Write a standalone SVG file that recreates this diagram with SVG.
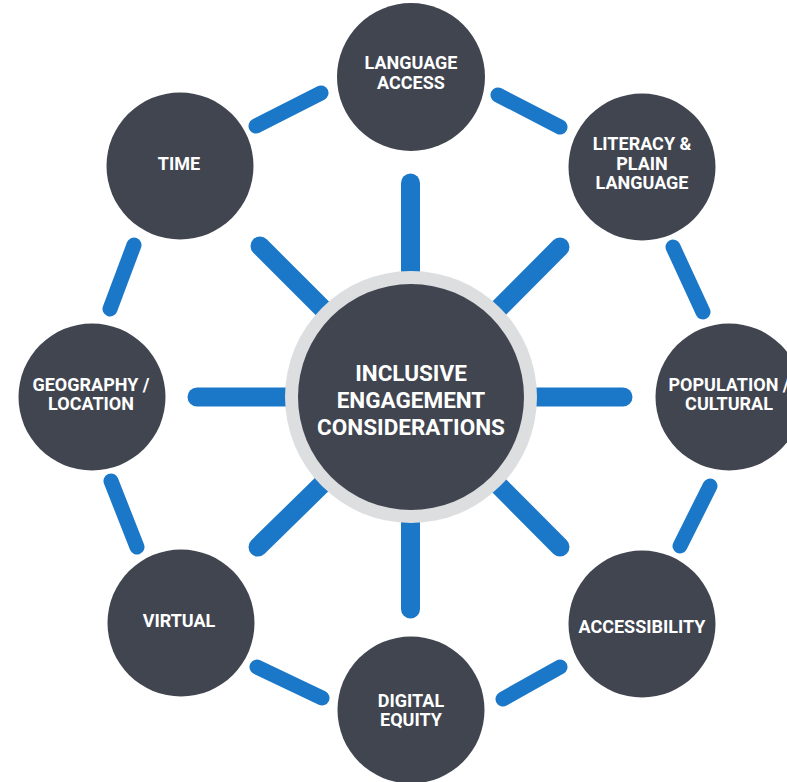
<svg xmlns="http://www.w3.org/2000/svg" width="787" height="782" viewBox="0 0 787 782">
<style>
.spoke{stroke:#1b78c9;stroke-width:19;stroke-linecap:round;fill:none}
.link{stroke:#1b78c9;stroke-width:15;stroke-linecap:round;fill:none}
.node{fill:#404550}
.ring{fill:#dcdee0}
.lbl{fill:#ffffff;font-family:Roboto,"Liberation Sans",Arial,sans-serif;font-weight:bold;font-size:18px;text-anchor:middle}
.big{font-size:22.5px}
</style>
<rect width="787" height="782" fill="#ffffff"/>
<g id="connectors">
<line class="spoke" x1="410.5" y1="183" x2="410.5" y2="397"/>
<line class="spoke" x1="560" y1="247" x2="411" y2="397"/>
<line class="spoke" x1="623" y1="397" x2="411" y2="397"/>
<line class="spoke" x1="560" y1="547" x2="411" y2="397"/>
<line class="spoke" x1="410.5" y1="609" x2="410.5" y2="397"/>
<line class="spoke" x1="258" y1="547" x2="411" y2="397"/>
<line class="spoke" x1="197" y1="397" x2="411" y2="397"/>
<line class="spoke" x1="260" y1="246" x2="411" y2="397"/>
<line class="link" x1="256" y1="126" x2="321" y2="93"/>
<line class="link" x1="498" y1="95" x2="560" y2="127"/>
<line class="link" x1="673" y1="247" x2="703" y2="312"/>
<line class="link" x1="710" y1="486" x2="680" y2="546"/>
<line class="link" x1="560" y1="667" x2="503" y2="699"/>
<line class="link" x1="322" y1="698" x2="257" y2="667"/>
<line class="link" x1="137" y1="547" x2="111" y2="481"/>
<line class="link" x1="110" y1="309" x2="134" y2="245"/>
</g>
<g id="center">
<circle class="ring" cx="411" cy="397" r="126"/>
<circle class="node" cx="411" cy="397" r="113"/>
<text class="lbl big" x="411" y="381">INCLUSIVE</text>
<text class="lbl big" x="411" y="408">ENGAGEMENT</text>
<text class="lbl big" x="411" y="435">CONSIDERATIONS</text>
</g>
<g id="language-access">
<circle class="node" cx="411" cy="77" r="74"/>
<text class="lbl" x="411" y="69">LANGUAGE</text>
<text class="lbl" x="411" y="89">ACCESS</text>
</g>
<g id="literacy">
<circle class="node" cx="642" cy="167" r="73.5"/>
<text class="lbl" x="642" y="150">LITERACY &amp;</text>
<text class="lbl" x="642" y="170">PLAIN</text>
<text class="lbl" x="642" y="189">LANGUAGE</text>
</g>
<g id="population">
<circle class="node" cx="729" cy="397" r="73.5"/>
<text class="lbl" x="729" y="391">POPULATION /</text>
<text class="lbl" x="729" y="410">CULTURAL</text>
</g>
<g id="accessibility">
<circle class="node" cx="642" cy="624" r="73.5"/>
<text class="lbl" x="642" y="633">ACCESSIBILITY</text>
</g>
<g id="digital-equity">
<circle class="node" cx="411" cy="710" r="73.5"/>
<text class="lbl" x="411" y="707">DIGITAL</text>
<text class="lbl" x="411" y="726">EQUITY</text>
</g>
<g id="virtual">
<circle class="node" cx="181" cy="623" r="73.5"/>
<text class="lbl" x="179" y="627">VIRTUAL</text>
</g>
<g id="geography">
<circle class="node" cx="92" cy="397" r="73.5"/>
<text class="lbl" x="91" y="391">GEOGRAPHY /</text>
<text class="lbl" x="91" y="410">LOCATION</text>
</g>
<g id="time">
<circle class="node" cx="180" cy="166" r="73.5"/>
<text class="lbl" x="179" y="170">TIME</text>
</g>
</svg>
